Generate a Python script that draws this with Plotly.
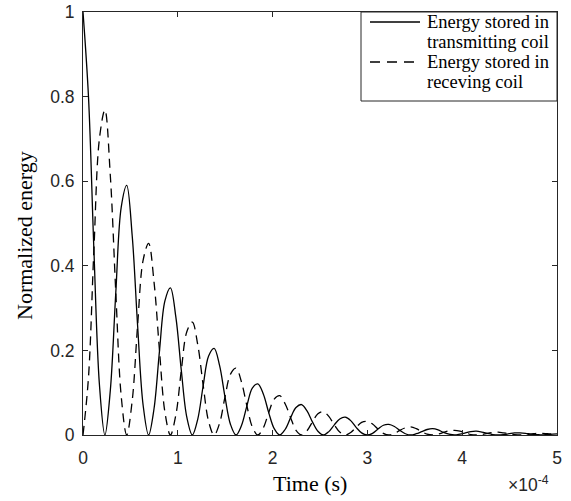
import plotly.graph_objects as go

# Time axis in units of 1e-4 s (as displayed with the x10^-4 multiplier)
time_1e4 = [
    0.000, 0.058, 0.115, 0.173, 0.231, 0.288, 0.346, 0.403,
    0.461, 0.519, 0.576, 0.634, 0.692, 0.749, 0.807, 0.864,
    0.922, 0.980, 1.037, 1.095, 1.153, 1.210, 1.268, 1.325,
    1.383, 1.441, 1.498, 1.556, 1.614, 1.671, 1.729, 1.786,
    1.844, 1.902, 1.959, 2.017, 2.075, 2.132, 2.190, 2.247,
    2.305, 2.363, 2.420, 2.478, 2.536, 2.593, 2.651, 2.708,
    2.766, 2.824, 2.881, 2.939, 2.997, 3.054, 3.112, 3.169,
    3.227, 3.285, 3.342, 3.400, 3.458, 3.515, 3.573, 3.630,
    3.688, 3.746, 3.803, 3.861, 3.919, 3.976, 4.034, 4.091,
    4.149, 4.207, 4.264, 4.322, 4.380, 4.437, 4.495, 4.552,
    4.610, 4.668, 4.725, 4.783, 4.841, 4.898, 4.956, 5.013,
]

energy_transmitting = [
    1.000, 0.799, 0.438, 0.120, 0.000, 0.105, 0.337, 0.538,
    0.590, 0.471, 0.259, 0.071, 0.000, 0.062, 0.199, 0.317,
    0.348, 0.278, 0.153, 0.042, 0.000, 0.037, 0.117, 0.187,
    0.205, 0.164, 0.090, 0.025, 0.000, 0.022, 0.069, 0.111,
    0.121, 0.097, 0.053, 0.015, 0.000, 0.013, 0.041, 0.065,
    0.072, 0.057, 0.031, 0.009, 0.000, 0.008, 0.024, 0.038,
    0.042, 0.034, 0.018, 0.005, 0.000, 0.004, 0.014, 0.023,
    0.025, 0.020, 0.011, 0.003, 0.000, 0.003, 0.008, 0.013,
    0.015, 0.012, 0.006, 0.002, 0.000, 0.002, 0.005, 0.008,
    0.009, 0.007, 0.004, 0.001, 0.000, 0.001, 0.003, 0.005,
    0.005, 0.004, 0.002, 0.001, 0.000, 0.001, 0.002, 0.003,
]

energy_receiving = [
    0.000, 0.137, 0.438, 0.700, 0.768, 0.614, 0.337, 0.092,
    0.000, 0.081, 0.259, 0.413, 0.453, 0.362, 0.199, 0.054,
    0.000, 0.048, 0.153, 0.244, 0.267, 0.214, 0.117, 0.032,
    0.000, 0.028, 0.090, 0.144, 0.158, 0.126, 0.069, 0.019,
    0.000, 0.017, 0.053, 0.085, 0.093, 0.074, 0.041, 0.011,
    0.000, 0.010, 0.031, 0.050, 0.055, 0.044, 0.024, 0.007,
    0.000, 0.006, 0.018, 0.030, 0.032, 0.026, 0.014, 0.004,
    0.000, 0.003, 0.011, 0.017, 0.019, 0.015, 0.008, 0.002,
    0.000, 0.002, 0.006, 0.010, 0.011, 0.009, 0.005, 0.001,
    0.000, 0.001, 0.004, 0.006, 0.007, 0.005, 0.003, 0.001,
    0.000, 0.001, 0.002, 0.004, 0.004, 0.003, 0.002, 0.000,
]

x_ticks = [0, 1, 2, 3, 4, 5]
y_ticks = [0, 0.2, 0.4, 0.6, 0.8, 1]
y_tick_labels = ["0", "0.2", "0.4", "0.6", "0.8", "1"]
legend_labels = [["Energy stored in", "transmitting coil"],
                 ["Energy stored in", "receving coil"]]

W, H = 571, 501
L, R, T, B = 83, 557, 12, 435


def px(x):
    return (x - L) / (R - L)


def py(y):
    return (B - y) / (B - T)


AX = "#262626"
SERIF = "Liberation Serif"
SANS = "Liberation Sans"
DASH = "9px,6px"

fig = go.Figure()
fig.add_trace(go.Scatter(x=time_1e4, y=energy_transmitting, mode="lines",
                         line=dict(color="black", width=1.3, shape="spline"),
                         showlegend=False, hoverinfo="skip"))
fig.add_trace(go.Scatter(x=time_1e4, y=energy_receiving, mode="lines",
                         line=dict(color="black", width=1.3, dash=DASH, shape="spline"),
                         showlegend=False, hoverinfo="skip"))

axis_common = dict(showline=True, linecolor=AX, linewidth=1, mirror="ticks",
                   ticks="inside", ticklen=5, tickwidth=1, tickcolor=AX,
                   showgrid=False, zeroline=False, automargin=False,
                   tickfont=dict(family=SANS, size=17.5, color=AX))

fig.update_layout(
    width=W, height=H,
    margin=dict(l=L, r=W - R, t=T, b=H - B, pad=0, autoexpand=False),
    paper_bgcolor="white", plot_bgcolor="white",
    showlegend=False,
    xaxis=dict(range=[0, 5], tickvals=x_ticks, ticktext=[str(v) for v in x_ticks],
               ticklabelstandoff=7, **axis_common),
    yaxis=dict(range=[0, 1], tickvals=y_ticks, ticktext=y_tick_labels,
               ticklabelstandoff=4, **axis_common),
)

shapes = []
annotations = []

# legend box
shapes.append(dict(type="rect", xref="paper", yref="paper",
                   x0=px(361), x1=px(557), y0=py(101), y1=py(12),
                   line=dict(color=AX, width=1), fillcolor="white", layer="above"))
# legend samples
shapes.append(dict(type="line", xref="paper", yref="paper",
                   x0=px(370), x1=px(420), y0=py(22), y1=py(22),
                   line=dict(color="black", width=1.3)))
shapes.append(dict(type="line", xref="paper", yref="paper",
                   x0=px(370), x1=px(420), y0=py(62), y1=py(62),
                   line=dict(color="black", width=1.3, dash="10px,7px")))

ys = [22, 42, 62, 82]
texts = legend_labels[0] + legend_labels[1]
for yy, tx in zip(ys, texts):
    annotations.append(dict(text=tx, xref="paper", yref="paper", x=px(425), y=py(yy),
                            xanchor="left", yanchor="middle", showarrow=False,
                            font=dict(family=SERIF, size=18.5, color="black")))

# axis titles
annotations.append(dict(text="Time (s)", xref="paper", yref="paper",
                        x=px(309.5), y=py(483), xanchor="center", yanchor="middle",
                        showarrow=False, font=dict(family=SERIF, size=22, color="black")))
annotations.append(dict(text="Normalized energy", xref="paper", yref="paper",
                        x=px(24), y=py(236), xanchor="center", yanchor="middle",
                        textangle=-90, showarrow=False,
                        font=dict(family=SERIF, size=22, color="black")))
# exponent multiplier
annotations.append(dict(text="\u00d710<sup>-4</sup>", xref="paper", yref="paper",
                        x=px(506), y=py(484), xanchor="left", yanchor="middle",
                        showarrow=False, font=dict(family=SANS, size=17.5, color=AX)))

fig.update_layout(shapes=shapes, annotations=annotations)
fig.write_html("out.html",
               config={"displayModeBar": False, "staticPlot": True},
               post_script="document.body.style.margin='0';"
                           "document.body.style.overflow='hidden';")
